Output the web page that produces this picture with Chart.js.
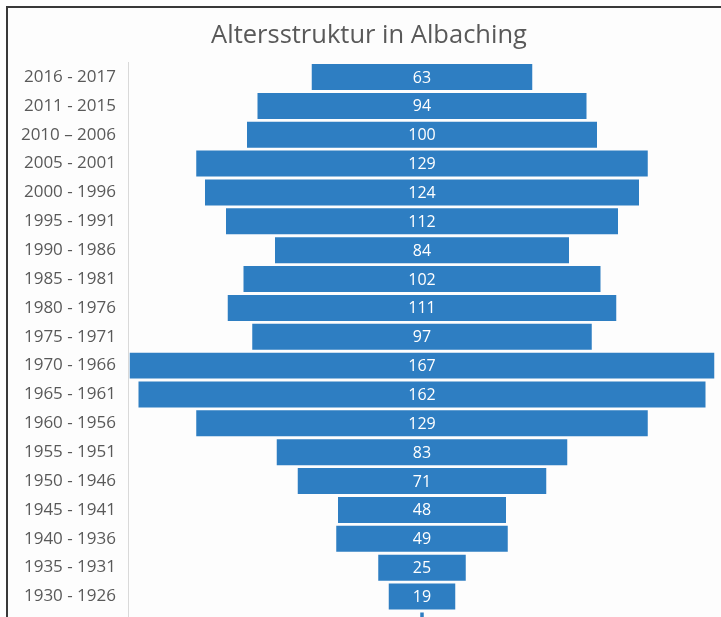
<!DOCTYPE html>
<html>
<head>
<meta charset="utf-8">
<script src="https://cdn.jsdelivr.net/npm/chart.js@4/dist/chart.umd.min.js"></script>
<style>
  html, body { margin: 0; padding: 0; background: #fff; overflow: hidden; }
  #frame {
    position: absolute; left: 6px; top: 6px;
    width: 730px; height: 670px;
    border-left: 2px solid #3a3a3a; border-top: 2px solid #3a3a3a;
    background: #fdfdfd;
  }
  #chart { display: block; }
</style>
</head>
<body>
<div id="frame"><canvas id="chart" width="722" height="654"></canvas></div>
<script>
// Jahrgänge (Geburtsjahre) und Einwohnerzahl
const categories = [
  '2016 - 2017', '2011 - 2015', '2010 \u2013 2006', '2005 - 2001', '2000 - 1996',
  '1995 - 1991', '1990 - 1986', '1985 - 1981', '1980 - 1976', '1975 - 1971',
  '1970 - 1966', '1965 - 1961', '1960 - 1956', '1955 - 1951', '1950 - 1946',
  '1945 - 1941', '1940 - 1936', '1935 - 1931', '1930 - 1926', '1925 - 1921'
];
const counts = [63, 94, 100, 129, 124, 112, 84, 102, 111, 97, 167, 162, 129, 83, 71, 48, 49, 25, 19, 1];

// centred bars: each bar runs from -v/2 to +v/2
const floating = counts.map(v => [-v / 2, v / 2]);

// white value labels inside the bars
const valueLabels = {
  id: 'valueLabels',
  afterDatasetsDraw(chart) {
    const ctx = chart.ctx;
    const meta = chart.getDatasetMeta(0);
    ctx.save();
    ctx.fillStyle = '#ffffff';
    ctx.font = '16px "Open Sans", sans-serif';
    ctx.textAlign = 'center';
    ctx.textBaseline = 'middle';
    meta.data.forEach((bar, i) => {
      if (counts[i] < 10) return;
      const p = bar.getProps(['x', 'base', 'y'], true);
      ctx.fillText(String(counts[i]), (p.x + p.base) / 2, p.y + 1);
    });
    ctx.restore();
  }
};

new Chart(document.getElementById('chart'), {
  type: 'bar',
  data: {
    labels: categories,
    datasets: [{
      data: floating,
      backgroundColor: '#2e7ec2',
      borderWidth: 0,
      categoryPercentage: 1,
      barPercentage: 0.9
    }]
  },
  options: {
    indexAxis: 'y',
    responsive: false,
    animation: false,
    layout: { padding: { left: 0, right: 0, top: 0, bottom: 3 } },
    scales: {
      x: {
        display: false,
        min: -84,
        max: 88
      },
      y: {
        afterFit: s => { s.width = 120; },
        grid: { display: false, drawTicks: false },
        border: { display: true, color: '#d9d9d9', width: 1 },
        ticks: {
          color: '#595959',
          padding: 12,
          font: { family: '"Open Sans", sans-serif', size: 17 }
        }
      }
    },
    plugins: {
      legend: { display: false },
      tooltip: { enabled: false },
      title: {
        display: true,
        text: 'Altersstruktur in Albaching',
        color: '#595959',
        font: { family: '"Open Sans", sans-serif', size: 25.5, weight: 'normal' },
        padding: { top: 12, bottom: 12 }
      }
    }
  },
  plugins: [valueLabels]
});
</script>
</body>
</html>
